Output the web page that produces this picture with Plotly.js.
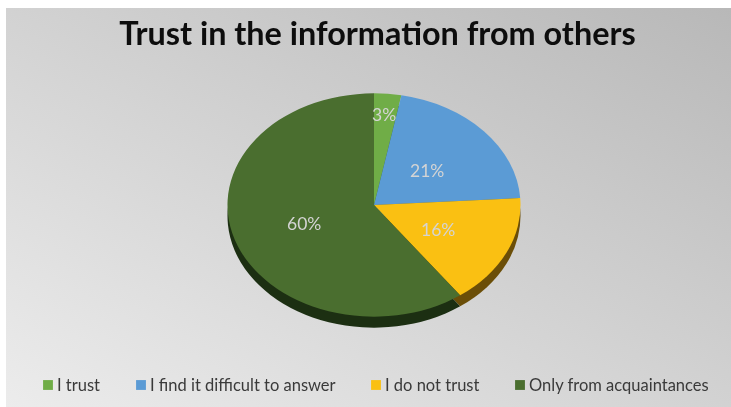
<!DOCTYPE html>
<html><head><meta charset="utf-8">
<script src="https://cdn.plot.ly/plotly-3.0.1.min.js"></script>
<style>
html,body{margin:0;padding:0;background:#fff;width:731px;height:407px;overflow:hidden}
#bg{position:absolute;left:6px;top:8px;width:725px;height:399px;background:linear-gradient(to bottom left,#b8b8b8 0%,#d2d2d2 50%,#ececec 100%)}
#chart{position:absolute;left:0;top:0;width:731px;height:407px;filter:blur(0.4px)}
</style></head><body>
<div id="bg"></div><div id="chart"></div>
<script>
const chartTitle = 'Trust in the information from others';
const categories = ['I trust','I find it difficult to answer','I do not trust','Only from acquaintances'];
const shares = [3,21,16,60];
const faceColors = ['#70ad47','#5b9bd5','#fac012','#4a6e2f'];
const edgeColors = ['#3d5f26','#2f5f8c','#6b4e08','#1c2f12'];
const labelPx = [[384,114],[427,170],[438,229],[304,223]];
const swatchPx = [43,136,371,515];
const W=731,H=407,CX=374,CY=205,R=146.5,SQUASH=0.762,DEPTH=11,LEGY=385;

const pieBase = {type:'pie',values:shares,labels:categories,sort:false,direction:'clockwise',rotation:0,
  textinfo:'none',hoverinfo:'none',
  domain:{x:[(CX-R)/W,(CX+R)/W],y:[(H-CY-R)/H,(H-CY+R)/H]}};
const traces=[
  Object.assign({},pieBase,{showlegend:false,marker:{colors:edgeColors,line:{width:0}}}),
  Object.assign({},pieBase,{showlegend:true,marker:{colors:faceColors,line:{width:0}}})
];
const layout={width:W,height:H,margin:{l:0,r:0,t:0,b:0},paper_bgcolor:'rgba(0,0,0,0)',
  font:{family:'Lato, sans-serif',color:'#262626'},
  title:{text:'<b>'+chartTitle+'</b>',font:{family:'Lato, sans-serif',size:32.4,color:'#0d0d0d'},x:377.5/W,xanchor:'center',y:1-34/H,yanchor:'middle'},
  showlegend:true,
  legend:{orientation:'h',x:0,y:0,xanchor:'left',yanchor:'bottom',bgcolor:'rgba(0,0,0,0)',font:{family:'Lato, sans-serif',size:16.5,color:'#3a3a3a'}},
  annotations:shares.map((v,i)=>({text:v+'%',xref:'paper',yref:'paper',x:labelPx[i][0]/W,y:1-labelPx[i][1]/H,
    showarrow:false,xanchor:'center',yanchor:'middle',font:{family:'Lato, sans-serif',size:17.5,color:'#d4d4d4'}}))
};
Plotly.newPlot('chart',traces,layout,{staticPlot:true,displayModeBar:false}).then(gd=>{
  const pies=gd.querySelectorAll('.pielayer .trace');
  pies.forEach((t,i)=>{
    const dy=i===0?DEPTH:0;
    t.setAttribute('transform',`translate(0,${CY+dy}) scale(1,${SQUASH}) translate(0,${-CY})`);
  });
  gd.querySelectorAll('.legend .scrollbox').forEach(s=>s.removeAttribute('clip-path'));
  const lg=gd.querySelector('.legend');
  lg.setAttribute('transform','translate(0,0)');
  const sb=gd.querySelector('.legend .scrollbox'); if(sb) sb.setAttribute('transform','translate(0,0)');
  gd.querySelectorAll('.legend .traces').forEach((t,i)=>{
    t.setAttribute('transform',`translate(${swatchPx[i]},${LEGY})`);
    const pts=t.querySelector('.legendpoints'); if(pts) pts.setAttribute('transform','translate(0,0)');
    t.querySelectorAll('.legendpie path, path.legendpie').forEach(p=>p.setAttribute('transform','translate(5,0) scale(0.82)'));
    const tx=t.querySelector('text'); if(tx){tx.setAttribute('x','14');tx.setAttribute('y','5.5');}
  });
});
</script></body></html>
